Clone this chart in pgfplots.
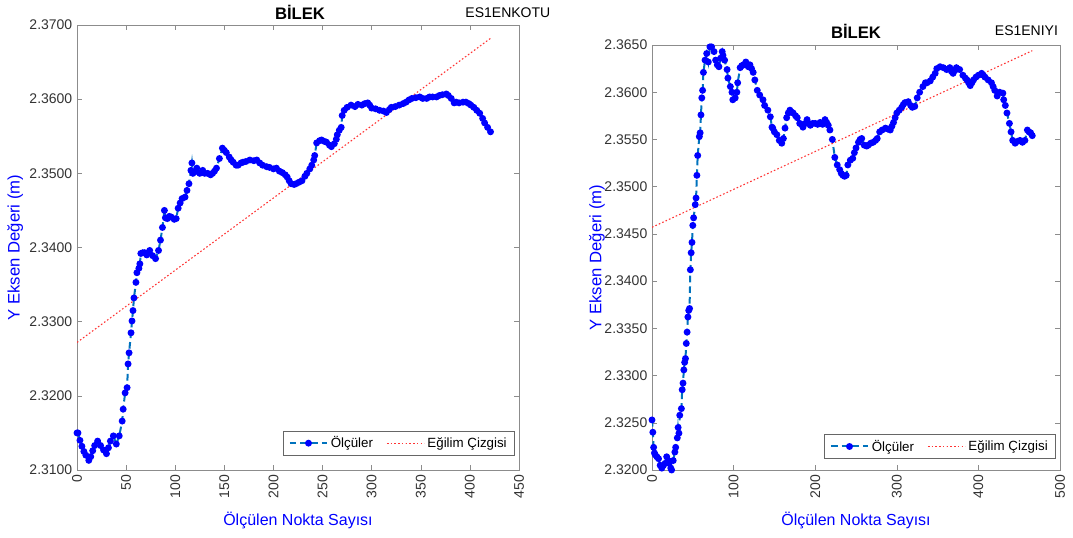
\documentclass[border=0pt]{standalone}
\usepackage{pgfplots}
\pgfplotsset{compat=1.18}
\usepackage{fontspec}
\setmainfont{Liberation Sans}

\definecolor{lineblue}{rgb}{0,0.447,0.741}
\definecolor{markblue}{rgb}{0,0,1}
\definecolor{trendred}{rgb}{1,0.2,0.2}

% measured values, left panel (ES1ENKOTU)
\pgfplotstableread{
n v
0 2.3150
1 2.3150
3 2.3140
5 2.3132
7 2.3125
9 2.3120
12 2.3113
14 2.3118
16 2.3126
18 2.3133
21 2.3139
24 2.3133
27 2.3127
30 2.3122
32 2.3130
34 2.3139
37 2.3146
40 2.3135
43 2.3146
46 2.3166
47 2.3182
49 2.3204
51 2.3211
52 2.3243
53 2.3258
55 2.3285
56 2.3301
57 2.3315
58 2.3332
60 2.3353
61 2.3366
63 2.3372
64 2.3378
65 2.3392
67 2.3393
69 2.3393
71 2.3390
74 2.3396
77 2.3389
80 2.3385
83 2.3396
85 2.3410
87 2.3427
89 2.3450
90 2.3440
92 2.3439
94 2.3442
96 2.3441
99 2.3438
101 2.3439
103 2.3453
105 2.3460
107 2.3466
110 2.3468
112 2.3477
114 2.3486
116 2.3504
117 2.3514
118 2.3500
120 2.3502
122 2.3507
125 2.3500
128 2.3504
130 2.3500
133 2.3500
136 2.3498
138 2.3500
140 2.3503
142 2.3507
145 2.3520
148 2.3534
150 2.3531
152 2.3528
155 2.3522
157 2.3518
159 2.3515
162 2.3511
164 2.3511
167 2.3514
169 2.3515
172 2.3516
176 2.3518
180 2.3517
183 2.3518
186 2.3514
189 2.3511
193 2.3509
196 2.3508
200 2.3506
203 2.3507
206 2.3503
209 2.3501
212 2.3498
214 2.3495
216 2.3490
218 2.3486
221 2.3485
223 2.3486
226 2.3488
229 2.3490
232 2.3496
234 2.3500
237 2.3506
239 2.3511
241 2.3518
242 2.3524
244 2.3541
247 2.3544
249 2.3545
252 2.3543
254 2.3542
257 2.3538
259 2.3536
262 2.3540
264 2.3546
265 2.3552
267 2.3558
269 2.3562
270 2.3578
272 2.3585
275 2.3589
279 2.3592
283 2.3590
286 2.3593
290 2.3592
293 2.3594
296 2.3595
298 2.3592
300 2.3588
304 2.3587
308 2.3585
312 2.3584
315 2.3582
318 2.3586
320 2.3589
324 2.3590
328 2.3592
332 2.3594
335 2.3596
338 2.3599
341 2.3601
345 2.3602
349 2.3603
352 2.3601
356 2.3601
359 2.3603
362 2.3603
366 2.3603
369 2.3605
372 2.3606
376 2.3607
378 2.3605
381 2.3601
384 2.3595
386 2.3596
389 2.3595
393 2.3596
396 2.3596
399 2.3594
401 2.3592
404 2.3589
407 2.3585
410 2.3581
413 2.3574
415 2.3568
418 2.3562
421 2.3556
}\leftdata

% measured values, right panel (ES1ENIYI)
\pgfplotstableread{
n v
0 2.3253
1 2.3240
2 2.3224
3 2.3218
4 2.3216
6 2.3214
8 2.3212
10 2.3205
12 2.3202
14 2.3205
16 2.3207
18 2.3214
20 2.3210
21 2.3207
23 2.3202
24 2.3200
26 2.3210
28 2.3219
29 2.3224
31 2.3234
32 2.3245
33 2.3239
34 2.3258
36 2.3265
37 2.3285
38 2.3292
39 2.3306
40 2.3314
41 2.3318
42 2.3334
43 2.3346
44 2.3362
45 2.3369
46 2.3371
47 2.3412
48 2.3430
49 2.3441
50 2.3459
51 2.3467
53 2.3481
54 2.3488
55 2.3512
56 2.3533
58 2.3553
59 2.3557
60 2.3576
61 2.3594
62 2.3602
63 2.3621
65 2.3634
67 2.3641
69 2.3632
71 2.3648
73 2.3648
76 2.3643
78 2.3634
80 2.3629
82 2.3627
84 2.3636
86 2.3643
87 2.3639
89 2.3634
92 2.3624
93 2.3615
96 2.3606
98 2.3600
99 2.3592
102 2.3594
104 2.3600
105 2.3610
108 2.3626
110 2.3628
112 2.3629
115 2.3632
118 2.3627
120 2.3629
122 2.3625
124 2.3621
126 2.3613
129 2.3602
132 2.3597
136 2.3592
138 2.3586
142 2.3581
145 2.3574
147 2.3563
148 2.3562
150 2.3558
153 2.3555
156 2.3549
159 2.3546
161 2.3551
163 2.3562
165 2.3573
167 2.3578
169 2.3581
171 2.3579
173 2.3578
176 2.3575
178 2.3573
181 2.3567
183 2.3566
185 2.3563
188 2.3567
190 2.3571
192 2.3567
194 2.3565
197 2.3567
200 2.3567
203 2.3566
206 2.3568
209 2.3566
212 2.3571
214 2.3568
216 2.3565
218 2.3560
221 2.3550
224 2.3531
227 2.3523
230 2.3518
232 2.3514
234 2.3512
236 2.3511
238 2.3512
240 2.3523
243 2.3528
246 2.3530
248 2.3536
250 2.3541
253 2.3547
255 2.3550
257 2.3551
260 2.3544
263 2.3543
265 2.3544
268 2.3546
271 2.3547
274 2.3549
276 2.3551
279 2.3558
282 2.3560
286 2.3562
289 2.3561
292 2.3560
294 2.3564
296 2.3568
298 2.3573
300 2.3578
303 2.3581
306 2.3584
308 2.3587
310 2.3589
314 2.3590
317 2.3586
319 2.3584
322 2.3585
325 2.3594
328 2.3600
332 2.3606
335 2.3610
337 2.3610
341 2.3612
344 2.3616
347 2.3620
349 2.3625
353 2.3627
357 2.3626
361 2.3624
365 2.3626
367 2.3622
369 2.3620
371 2.3623
373 2.3626
377 2.3624
381 2.3618
384 2.3615
386 2.3613
388 2.3610
390 2.3607
392 2.3610
394 2.3613
397 2.3616
400 2.3618
404 2.3620
406 2.3618
408 2.3616
412 2.3613
416 2.3610
418 2.3606
420 2.3602
423 2.3596
426 2.3600
430 2.3599
431 2.3592
433 2.3586
435 2.3578
438 2.3567
440 2.3558
442 2.3549
445 2.3546
448 2.3548
451 2.3549
454 2.3547
457 2.3549
460 2.3560
462 2.3558
464 2.3557
466 2.3554
}\rightdata

\pgfplotsset{
  panel/.style={
    scale only axis,
    axis line style={black!45},
    every tick/.style={black!45},
    tick align=inside,
    major tick length=4pt,
    tick label style={font=\fontsize{10.5}{12}\selectfont, text=black!80},
    xticklabel style={rotate=90, anchor=east},
    yticklabel style={/pgf/number format/.cd, fixed, fixed zerofill, precision=4},
    /pgf/number format/assume math mode=true,
    scaled y ticks=false,
    scaled x ticks=false,
    xlabel style={font=\fontsize{12}{14}\selectfont, text=markblue,
      at={(axis description cs:0.5,0)}, anchor=center, yshift=-37.5pt},
    ylabel style={font=\fontsize{12.5}{14}\selectfont, text=markblue, anchor=center},
    legend columns=2,
    legend style={font=\fontsize{10}{12}\selectfont, draw=black!60,
      inner xsep=4pt, inner ysep=2pt,
      /tikz/every even column/.append style={column sep=8pt}},
    legend cell align=left,
    legend image code/.code={%
      \draw[mark repeat=2,mark phase=2,##1] plot coordinates {(0pt,0pt) (14pt,0pt) (28pt,0pt)};},
  },
  meas/.style={color=lineblue, line width=1.5pt, dash pattern=on 5pt off 3pt,
    mark=*, mark size=1.8pt, mark options={solid, fill=markblue, draw=markblue}},
  trend/.style={color=trendred, line width=0.8pt, dash pattern=on 1.2pt off 1.6pt},
}

\begin{document}
\begin{tikzpicture}
\path[use as bounding box] (0pt,0pt) rectangle (804.75pt,402.75pt);

\begin{axis}[panel,
  at={(57.75pt,50.25pt)}, anchor=south west,
  width=331.5pt, height=333.75pt,
  xmin=0, xmax=450, ymin=2.31, ymax=2.37,
  xtick={0,50,100,150,200,250,300,350,400,450},
  ytick={2.31,2.32,2.33,2.34,2.35,2.36,2.37},
  xlabel={Ölçülen Nokta Sayısı},
  ylabel={Y Eksen Değeri (m)},
  ylabel style={at={(axis description cs:-0.140,0.5)}},
  legend style={at={(axis description cs:1,0)}, anchor=south east,
    xshift=-3pt, yshift=11pt},
]
\addplot[meas] table[x=n, y=v] {\leftdata};
\addlegendentry{Ölçüler}
\addplot[trend] coordinates {(0,2.3272) (421,2.3682)};
\addlegendentry{Eğilim Çizgisi}
\end{axis}

\begin{axis}[panel,
  at={(489pt,50.25pt)}, anchor=south west,
  width=306pt, height=318.75pt,
  xmin=0, xmax=500, ymin=2.32, ymax=2.365,
  xtick={0,100,200,300,400,500},
  ytick={2.32,2.325,2.33,2.335,2.34,2.345,2.35,2.355,2.36,2.365},
  xlabel={Ölçülen Nokta Sayısı},
  ylabel={Y Eksen Değeri (m)},
  ylabel style={at={(axis description cs:-0.135,0.5)}},
  legend style={at={(axis description cs:1,0)}, anchor=south east,
    xshift=-3pt, yshift=8.5pt},
]
\addplot[meas] table[x=n, y=v] {\rightdata};
\addlegendentry{Ölçüler}
\addplot[trend] coordinates {(0,2.3457) (466,2.3644)};
\addlegendentry{Eğilim Çizgisi}
\end{axis}

% panel titles
\node[font=\bfseries\fontsize{12.5}{14}\selectfont] at (225pt,393.5pt) {BİLEK};
\node[font=\fontsize{10.5}{12}\selectfont, anchor=east] at (416.25pt,393.5pt) {ES1ENKOTU};
\node[font=\bfseries\fontsize{12.5}{14}\selectfont] at (642pt,379.5pt) {BİLEK};
\node[font=\fontsize{10.5}{12}\selectfont, anchor=east] at (797pt,380pt) {ES1ENIYI};
\end{tikzpicture}
\end{document}
